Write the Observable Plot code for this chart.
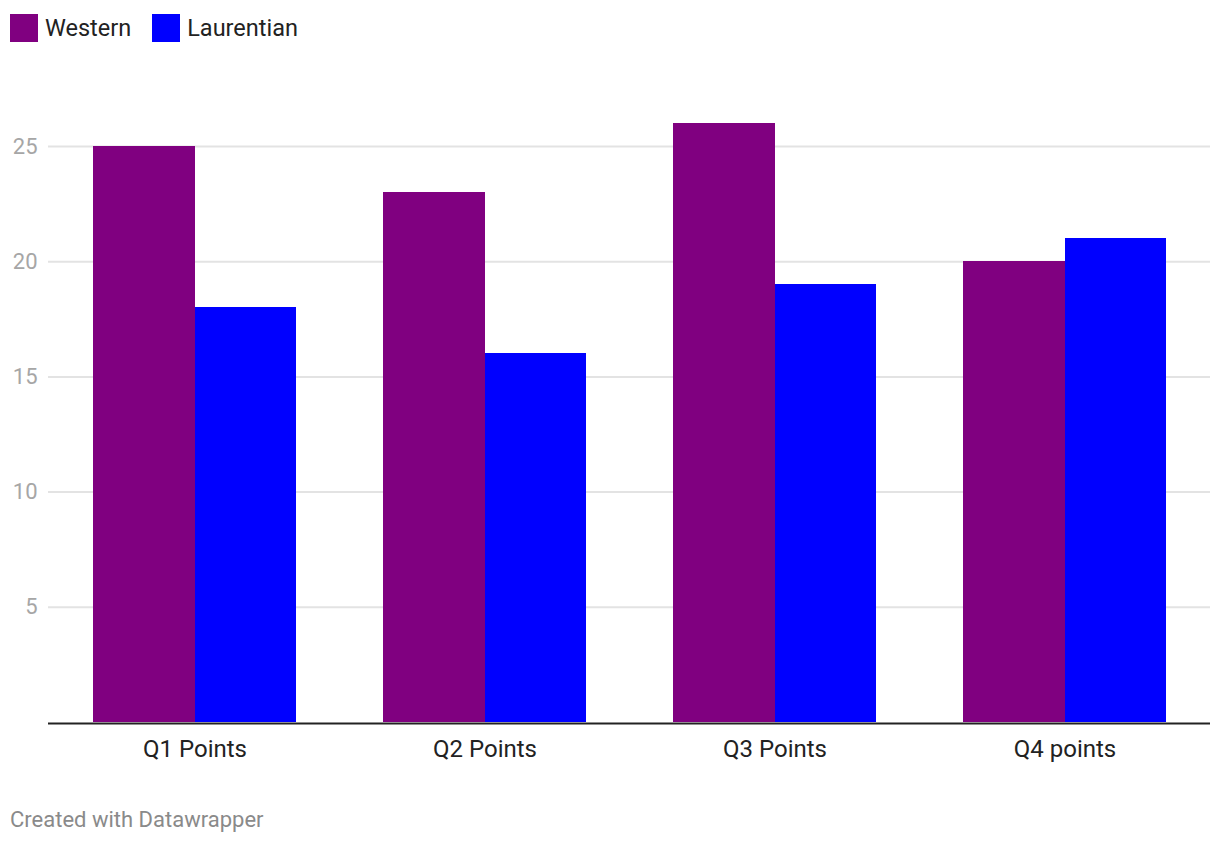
<!DOCTYPE html>
<html>
<head>
<meta charset="utf-8">
<script src="https://cdn.jsdelivr.net/npm/d3@7"></script>
<script src="https://cdn.jsdelivr.net/npm/@observablehq/plot@0.6"></script>
<style>
  html, body { margin: 0; padding: 0; background: #fff; }
  body { width: 1220px; height: 844px; position: relative; overflow: hidden; font-family: Roboto, "Noto Sans", sans-serif; }
  #legend { position: absolute; left: 10px; top: 14px; display: flex; align-items: center; font-size: 23.5px; color: #222; }
  .item { display: flex; align-items: center; margin-right: 21px; }
  .sw { width: 28px; height: 28px; margin-right: 7px; }
  #chart { position: absolute; left: 0; top: 60px; }
  #caption { position: absolute; left: 10px; top: 807px; font-size: 22px; color: #8a8a8a; }
</style>
</head>
<body>
<div id="legend"></div>
<div id="chart"></div>
<div id="caption">Created with Datawrapper</div>
<script>
const categories = ["Q1 Points", "Q2 Points", "Q3 Points", "Q4 points"];
const seriesNames = ["Western", "Laurentian"];
const seriesColors = ["#800080", "#0000ff"];
const western = [25, 23, 26, 20];
const laurentian = [18, 16, 19, 21];
const yTicks = [5, 10, 15, 20, 25];

const rowsW = categories.map((c, i) => ({category: c, value: western[i]}));
const rowsL = categories.map((c, i) => ({category: c, value: laurentian[i]}));

const width = 1220, height = 720;
const marginLeft = 48, marginRight = 10, marginTop = 63, marginBottom = 58;
const paddingInner = 0.3, paddingOuter = 0.15;
const step = (width - marginLeft - marginRight) / (categories.length - paddingInner + 2 * paddingOuter);
const half = step * (1 - paddingInner) / 2;

const legend = document.getElementById("legend");
seriesNames.forEach((n, i) => {
  const it = document.createElement("div");
  it.className = "item";
  it.innerHTML = `<div class="sw" style="background:${seriesColors[i]}"></div><span>${n}</span>`;
  legend.appendChild(it);
});

const plot = Plot.plot({
  width, height, marginLeft, marginRight, marginTop, marginBottom,
  style: {fontFamily: "Roboto, 'Noto Sans', sans-serif", background: "#fff"},
  x: {domain: categories, paddingInner, paddingOuter, label: null},
  y: {domain: [0, 26], label: null},
  marks: [
    Plot.ruleY(yTicks, {stroke: "#e3e3e3", strokeWidth: 2}),
    Plot.barY(rowsW, {x: "category", y: "value", fill: seriesColors[0], insetRight: half - 0.5, shapeRendering: "crispEdges"}),
    Plot.barY(rowsL, {x: "category", y: "value", fill: seriesColors[1], insetLeft: half, shapeRendering: "crispEdges"}),
    Plot.ruleY([0], {stroke: "#222", strokeWidth: 2, dy: 1}),
    Plot.axisY({ticks: yTicks, tickSize: 0, tickPadding: 11, fontSize: 22, color: "#a6a6a6", label: null}),
    Plot.axisX({tickSize: 0, tickPadding: 17, fontSize: 24, color: "#222", label: null})
  ]
});
document.getElementById("chart").appendChild(plot);
</script>
</body>
</html>
